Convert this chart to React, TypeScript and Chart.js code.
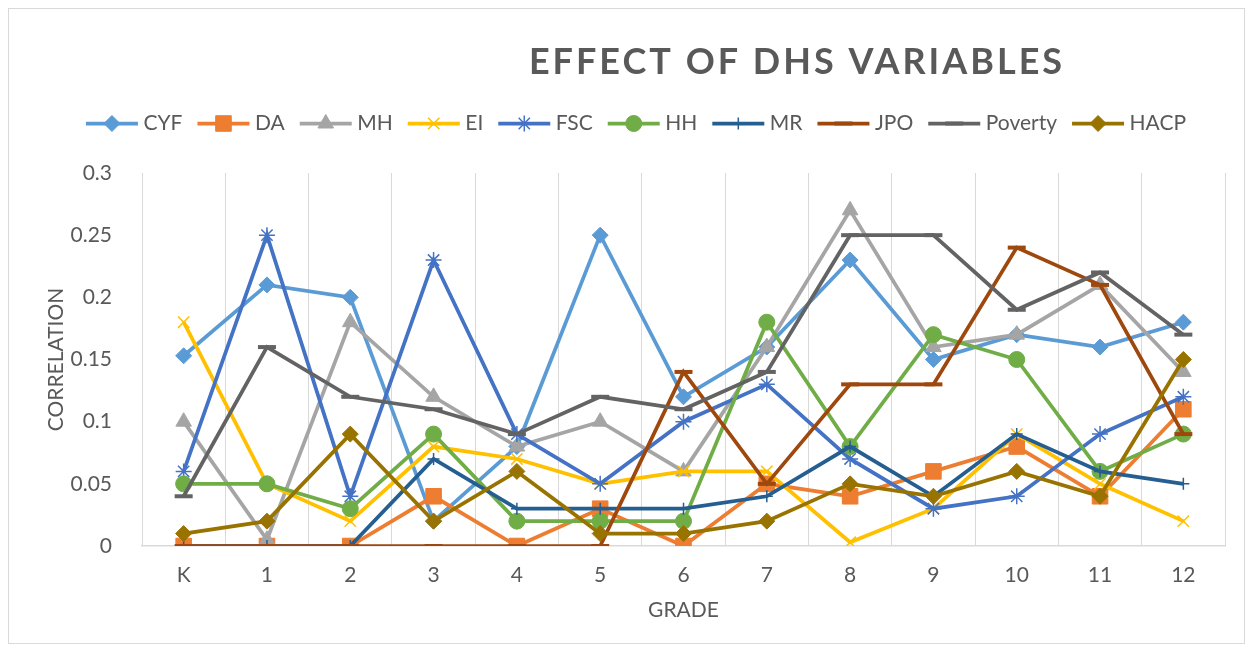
import React, { useEffect, useRef } from "react";
import { Chart, registerables } from "chart.js";
import { drawPoint } from "chart.js/helpers";

Chart.register(...registerables);

const CATEGORIES = ["K", "1", "2", "3", "4", "5", "6", "7", "8", "9", "10", "11", "12"];
const CYF = [0.153, 0.21, 0.2, 0.02, 0.08, 0.25, 0.12, 0.16, 0.23, 0.15, 0.17, 0.16, 0.18];
const DA = [0, 0, 0, 0.04, 0, 0.03, 0, 0.05, 0.04, 0.06, 0.08, 0.04, 0.11];
const MH = [0.1, 0.005, 0.18, 0.12, 0.08, 0.1, 0.06, 0.16, 0.27, 0.16, 0.17, 0.21, 0.14];
const EI = [0.18, 0.05, 0.02, 0.08, 0.07, 0.05, 0.06, 0.06, 0.003, 0.03, 0.09, 0.05, 0.02];
const FSC = [0.06, 0.25, 0.04, 0.23, 0.09, 0.05, 0.1, 0.13, 0.07, 0.03, 0.04, 0.09, 0.12];
const HH = [0.05, 0.05, 0.03, 0.09, 0.02, 0.02, 0.02, 0.18, 0.08, 0.17, 0.15, 0.06, 0.09];
const MR = [0, 0, 0, 0.07, 0.03, 0.03, 0.03, 0.04, 0.08, 0.04, 0.09, 0.06, 0.05];
const JPO = [0, 0, 0, 0, 0, 0, 0.14, 0.05, 0.13, 0.13, 0.24, 0.21, 0.09];
const POVERTY = [0.04, 0.16, 0.12, 0.11, 0.09, 0.12, 0.11, 0.14, 0.25, 0.25, 0.19, 0.22, 0.17];
const HACP = [0.01, 0.02, 0.09, 0.02, 0.06, 0.01, 0.01, 0.02, 0.05, 0.04, 0.06, 0.04, 0.15];

const Y_TICKS = [0, 0.05, 0.1, 0.15, 0.2, 0.25, 0.3];
const TITLE = "EFFECT OF DHS VARIABLES";
const FONT = "Lato, 'Open Sans', sans-serif";
const TEXT = "#595959";

const SERIES = [
  { label: "CYF", data: CYF, color: "#5B9BD5", style: "rectRot", r: 8, bw: 1 },
  { label: "DA", data: DA, color: "#ED7D31", style: "rect", r: 11, bw: 1 },
  { label: "MH", data: MH, color: "#A5A5A5", style: "triangle", r: 9, bw: 1 },
  { label: "EI", data: EI, color: "#FFC000", style: "crossRot", r: 8, bw: 1.5 },
  { label: "FSC", data: FSC, color: "#4472C4", style: "star", r: 8, bw: 1.5 },
  { label: "HH", data: HH, color: "#70AD47", style: "circle", r: 8, bw: 1 },
  { label: "MR", data: MR, color: "#255E91", style: "cross", r: 6, bw: 1.5 },
  { label: "JPO", data: JPO, color: "#9E480E", style: "line", r: 9, bw: 4 },
  { label: "Poverty", data: POVERTY, color: "#636363", style: "line", r: 9, bw: 4 },
  { label: "HACP", data: HACP, color: "#997300", style: "rectRot", r: 8, bw: 1 },
];

const LEGEND_FONT = 21;
const BOX_W = 47;
const SAMPLE_W = 52;
const LINE_W = 3.75;

const titlePlugin = {
  id: "customTitle",
  afterDraw(chart: any) {
    const ctx = chart.ctx;
    ctx.save();
    ctx.font = `bold 36px ${FONT}`;
    (ctx as any).letterSpacing = "3px";
    ctx.fillStyle = TEXT;
    ctx.textAlign = "center";
    ctx.textBaseline = "middle";
    ctx.fillText(TITLE, 788, 53);
    ctx.restore();
  },
};

const legendSpacePlugin = {
  id: "legendSpace",
  beforeInit(chart: any) {
    const legend = chart.legend;
    if (!legend) return;
    const orig = legend.fit;
    legend.fit = function () {
      orig.call(this);
      this.height += 29;
    };
  },
};

const legendMarkerPlugin = {
  id: "legendMarkers",
  afterDraw(chart: any) {
    const legend = chart.legend;
    if (!legend || !legend.legendHitBoxes) return;
    const ctx = chart.ctx;
    legend.legendHitBoxes.forEach((box: any, i: number) => {
      const item = legend.legendItems[i];
      const s = SERIES[item.datasetIndex];
      if (!s) return;
      const cy = box.top + LEGEND_FONT / 2;
      ctx.save();
      ctx.strokeStyle = s.color;
      ctx.lineWidth = LINE_W;
      ctx.beginPath();
      ctx.moveTo(box.left, cy);
      ctx.lineTo(box.left + SAMPLE_W, cy);
      ctx.stroke();
      ctx.fillStyle = s.color;
      ctx.lineWidth = s.bw;
      drawPoint(ctx, { pointStyle: s.style, rotation: 0, radius: s.r, borderWidth: s.bw } as any,
        box.left + SAMPLE_W / 2, cy);
      ctx.restore();
    });
  },
};

export default function App() {
  const ref = useRef<HTMLCanvasElement | null>(null);
  useEffect(() => {
    if (!ref.current) return;
    const n = SERIES.length;
    const chart = new Chart(ref.current, {
      type: "line",
      data: {
        labels: CATEGORIES,
        datasets: SERIES.map((s, i) => ({
          label: s.label,
          data: s.data,
          borderColor: s.color,
          backgroundColor: s.color,
          borderWidth: LINE_W,
          pointStyle: s.style as any,
          pointRadius: s.r,
          pointHoverRadius: s.r,
          pointBorderWidth: s.bw,
          pointBackgroundColor: s.color,
          pointBorderColor: s.color,
          tension: 0,
          fill: false,
          order: n - i,
        })),
      },
      options: {
        animation: false,
        responsive: true,
        maintainAspectRatio: false,
        layout: { padding: { top: 89, right: 19, bottom: 0, left: 38 } },
        plugins: {
          tooltip: { enabled: false },
          legend: {
            position: "top",
            labels: {
              font: { family: FONT, size: LEGEND_FONT },
              color: TEXT,
              boxWidth: BOX_W,
              boxHeight: 4,
              padding: 15,
              sort: (a: any, b: any) => a.datasetIndex - b.datasetIndex,
              generateLabels: (chart: any) => {
                const items = Chart.defaults.plugins.legend.labels.generateLabels(chart);
                return items.map((it: any) => ({
                  ...it,
                  fillStyle: "rgba(0,0,0,0)",
                  strokeStyle: "rgba(0,0,0,0)",
                  lineWidth: 0,
                }));
              },
            },
          },
        },
        scales: {
          x: {
            offset: true,
            grid: { display: true, offset: true, color: "#D9D9D9", lineWidth: 1, drawTicks: false },
            border: { display: true, color: "#D9D9D9", width: 1.5 },
            ticks: { color: TEXT, font: { family: FONT, size: 21 }, padding: 17 },
            title: {
              display: true,
              text: "GRADE",
              color: TEXT,
              font: { family: FONT, size: 21 },
              padding: { top: 0, bottom: 20 },
            },
            afterFit: (scale: any) => {
              scale.height = 97;
            },
          },
          y: {
            min: 0,
            max: 0.3,
            afterBuildTicks: (scale: any) => {
              scale.ticks = Y_TICKS.map((v) => ({ value: v }));
            },
            grid: { display: false },
            border: { display: false },
            ticks: {
              color: TEXT,
              font: { family: FONT, size: 21 },
              padding: 22,
              callback: (v: any) => String(v),
            },
            title: {
              display: true,
              text: "CORRELATION",
              color: TEXT,
              font: { family: FONT, size: 21 },
              padding: { top: -3, bottom: 0 },
            },
            afterFit: (scale: any) => {
              scale.width = 95;
            },
          },
        },
      },
      plugins: [titlePlugin, legendSpacePlugin, legendMarkerPlugin],
    });
    return () => chart.destroy();
  }, []);
  return (
    <div style={{ width: 1235, height: 634, border: "1px solid #D9D9D9", position: "relative", background: "#fff" }}>
      <canvas ref={ref} />
    </div>
  );
}
